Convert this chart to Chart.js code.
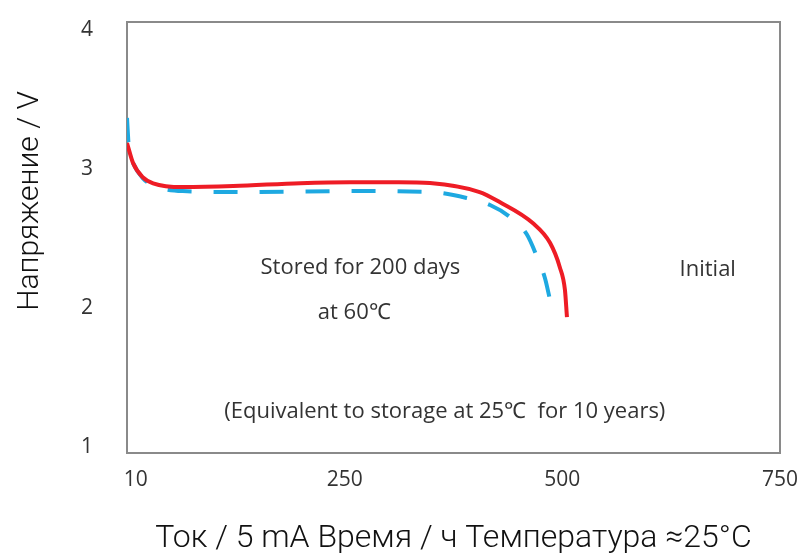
<!DOCTYPE html>
<html>
<head>
<meta charset="utf-8">
<script src="https://cdn.jsdelivr.net/npm/chart.js@4/dist/chart.umd.min.js"></script>
<style>
   html, body { margin: 0; padding: 0; background: #fff; }
   #wrap { width: 799px; height: 559px; }
</style>
</head>
<body>
<div id="wrap"><canvas id="dischargeChart"></canvas></div>
<script>
// discharge curves, time in hours vs voltage
const initialTime = [0, 7, 18, 30, 64, 122, 199, 256, 312, 348, 405, 428, 466, 486, 497, 503, 505.3];
const initialVolt = [3.19, 3.045, 2.944, 2.90, 2.873, 2.880, 2.901, 2.908, 2.908, 2.902, 2.837, 2.765, 2.614, 2.470, 2.298, 2.132, 1.938];

const storedTime = [0, 2.3, 7, 18, 32, 64, 141, 256, 348, 390, 417, 440, 459, 471, 480, 486, 491.6];
const storedVolt = [3.37, 3.138, 3.045, 2.937, 2.88, 2.844, 2.837, 2.844, 2.837, 2.794, 2.744, 2.657, 2.535, 2.370, 2.219, 2.060, 1.938];

const xTicks = [10, 250, 500, 750];
const yTicks = [1, 2, 3, 4];

const notes = [
   { text: 'Stored for 200 days', x: 268, y: 2.29 },
   { text: 'at 60\u2103', x: 261, y: 1.97 },
   { text: 'Initial', x: 667, y: 2.28 },
   { text: '(Equivalent to storage at 25\u2103  for 10 years)', x: 365, y: 1.257 },
];

document.addEventListener('DOMContentLoaded', initApp);

function initApp() {
   const ctx = document.getElementById('dischargeChart').getContext('2d');

   const framePlugin = {
      id: 'frame',
      beforeDatasetsDraw(chart) {
         const a = chart.chartArea;
         const c = chart.ctx;
         c.save();
         c.strokeStyle = '#8a8a8a';
         c.lineWidth = 2;
         c.strokeRect(a.left, a.top, a.right - a.left, a.bottom - a.top);
         c.restore();
      },
      afterDatasetsDraw(chart) {
         const c = chart.ctx;
         const xs = chart.scales.x;
         const ys = chart.scales.y;
         c.save();
         c.fillStyle = '#333';
         c.font = '22px "Open Sans"';
         c.textAlign = 'center';
         c.textBaseline = 'middle';
         notes.forEach(n => {
            c.fillText(n.text, xs.getPixelForValue(n.x), ys.getPixelForValue(n.y));
         });
         c.restore();
      }
   };

   new Chart(ctx, {
      type: 'line',
      data: {
         datasets: [
            {
               label: 'Initial',
               data: initialTime.map((t, i) => ({ x: t, y: initialVolt[i] })),
               borderColor: '#ee1c25',
               borderWidth: 4,
               pointRadius: 0,
               cubicInterpolationMode: 'monotone',
               order: 1,
            },
            {
               label: 'Stored for 200 days at 60\u2103',
               data: storedTime.map((t, i) => ({ x: t, y: storedVolt[i] })),
               borderColor: '#1ea9e1',
               borderWidth: 4,
               borderDash: [24, 22],
               pointRadius: 0,
               cubicInterpolationMode: 'monotone',
               order: 2,
            },
         ],
      },
      options: {
         responsive: true,
         maintainAspectRatio: false,
         animation: false,
         layout: { padding: { top: 22, right: 19, left: 12, bottom: 0 } },
         plugins: {
            legend: { display: false },
            tooltip: { enabled: false },
         },
         scales: {
            x: {
               type: 'linear',
               min: 0,
               max: 750,
               afterBuildTicks: scale => { scale.ticks = xTicks.map(v => ({ value: v })); },
               afterFit: scale => {
                  scale.height = 106;
                  scale.paddingLeft = 0;
                  scale.paddingRight = 0;
               },
               grid: { display: false, drawTicks: false },
               border: { display: false },
               ticks: {
                  color: '#333',
                  font: { family: 'Open Sans', size: 21 },
                  padding: 14,
                  maxRotation: 0,
               },
               title: {
                  display: true,
                  text: 'Ток / 5 mA Время / ч Температура \u224825°C',
                  color: '#111',
                  font: { family: 'Roboto', size: 32, weight: 300 },
                  padding: { top: 14, bottom: 1 },
               },
            },
            y: {
               min: 0.96,
               max: 4.06,
               afterBuildTicks: scale => { scale.ticks = yTicks.map(v => ({ value: v })); },
               afterFit: scale => {
                  scale.width = 115;
                  scale.paddingTop = 0;
                  scale.paddingBottom = 0;
               },
               grid: { display: false, drawTicks: false },
               border: { display: false },
               ticks: {
                  color: '#333',
                  font: { family: 'Open Sans', size: 21 },
                  padding: 34,
               },
               title: {
                  display: true,
                  // leading spaces lift the rotated title above the axis centre, as in the source
                  text: '          Напряжение / V',
                  color: '#111',
                  font: { family: 'Roboto', size: 30, weight: 300 },
                  padding: { top: 0, bottom: 0 },
               },
            },
         },
      },
      plugins: [framePlugin],
   });
}
</script>
</body>
</html>
